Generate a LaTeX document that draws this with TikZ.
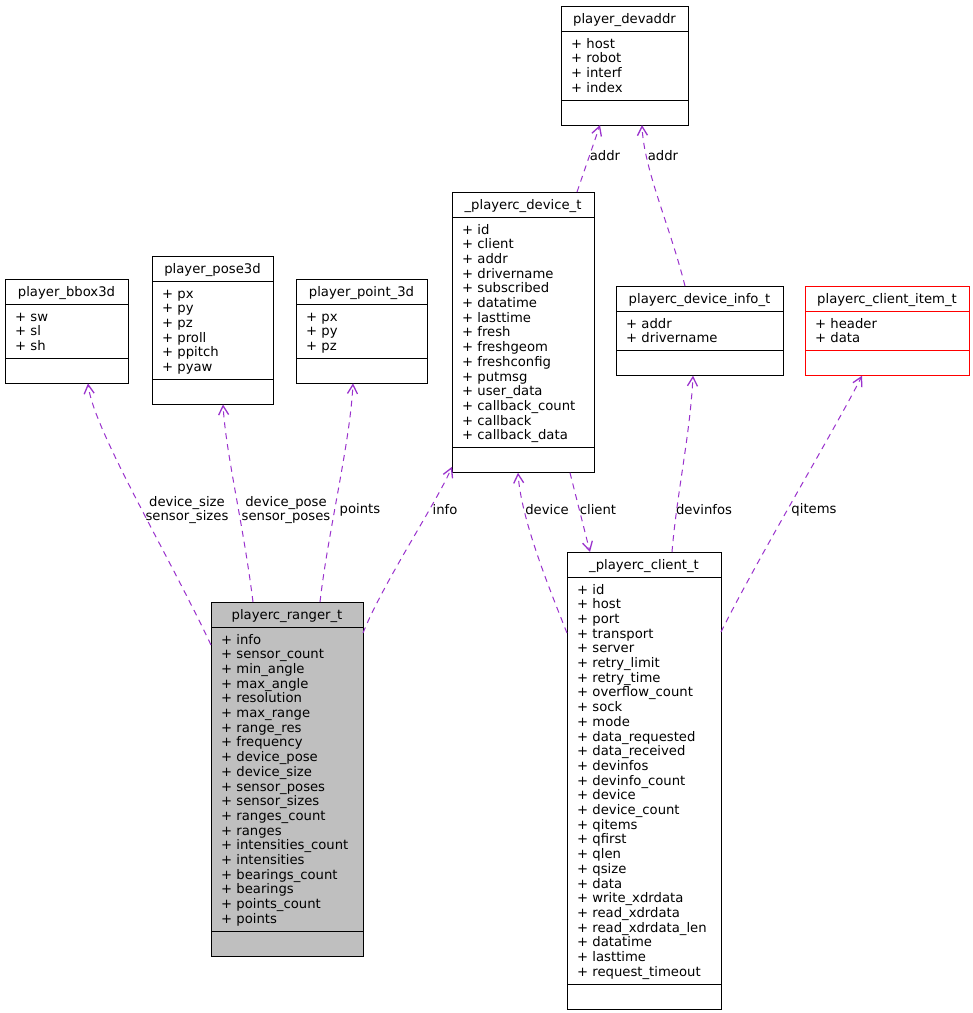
\documentclass[tikz,border=0pt]{standalone}
\usepackage{fontspec}
\setmainfont{DejaVu Sans}
\usetikzlibrary{arrows.meta}
\definecolor{edgec}{HTML}{9A32CD}
\definecolor{rangerfill}{HTML}{BFBFBF}
\tikzset{
  txt/.style={font=\fontsize{13.2}{14.7}\selectfont, inner sep=0pt, text=black},
  uses/.style={draw=edgec, line width=1pt, dash pattern=on 6pt off 5pt,
    -{Straight Barb[length=9pt,width=10pt,line width=1.3pt]}},
  elabel/.style={txt, align=center},
}
% #1 name, #2 left, #3 right, #4 top, #5 n attrs, #6 title, #7 attrs, #8 draw colour, #9 fill
\newcommand{\umlbox}[9]{%
  \pgfmathsetmacro\ubH{75+14.7*(#5-1)}%
  \pgfmathsetmacro\ubW{#3-#2}%
  \pgfmathsetmacro\ubSa{#4+25}%
  \pgfmathsetmacro\ubSb{#4+50+14.7*(#5-1)}%
  \node[draw=#8, fill=#9, line width=1pt, anchor=north west, minimum width=\ubW pt,
        minimum height=\ubH pt, inner sep=0pt, outer sep=0pt] (#1) at (#2,#4) {};
  \draw[draw=#8, line width=1pt] (#2,\ubSa) -- (#3,\ubSa);
  \draw[draw=#8, line width=1pt] (#2,\ubSb) -- (#3,\ubSb);
  \node[txt, anchor=base] (#1-title) at ({(#2+#3)/2},{#4+17.5}) {#6};
  \foreach \a [count=\i from 0] in {#7} {
    \node[txt, anchor=base west] (#1-a\i) at ({#2+10},{#4+42+14.7*\i}) {+ \a};
  }%
}
\begin{document}
\begin{tikzpicture}[x=1pt,y=-1pt]
\fill[white] (0,0) rectangle (973,1013);
\useasboundingbox (0,0) rectangle (973,1013);

\umlbox{devaddr}{561}{688}{6}{4}{player\_devaddr}{host,robot,interf,index}{black}{white}
\umlbox{devicet}{452}{594}{192}{15}{\_playerc\_device\_t}{id,client,addr,drivername,subscribed,datatime,lasttime,fresh,freshgeom,freshconfig,putmsg,user\_data,callback\_count,callback,callback\_data}{black}{white}
\umlbox{bbox}{5}{128}{279}{3}{player\_bbox3d}{sw,sl,sh}{black}{white}
\umlbox{pose}{152}{273}{256}{6}{player\_pose3d}{px,py,pz,proll,ppitch,pyaw}{black}{white}
\umlbox{point}{296}{427}{279}{3}{player\_point\_3d}{px,py,pz}{black}{white}
\umlbox{devinfo}{616}{783}{286}{2}{playerc\_device\_info\_t}{addr,drivername}{black}{white}
\umlbox{item}{805}{969}{286}{2}{playerc\_client\_item\_t}{header,data}{red}{white}
\umlbox{ranger}{211}{363}{602}{20}{playerc\_ranger\_t}{info,sensor\_count,min\_angle,max\_angle,resolution,max\_range,range\_res,frequency,device\_pose,device\_size,sensor\_poses,sensor\_sizes,ranges\_count,ranges,intensities\_count,intensities,bearings\_count,bearings,points\_count,points}{black}{rangerfill}
\umlbox{client}{567}{721}{552}{27}{\_playerc\_client\_t}{id,host,port,transport,server,retry\_limit,retry\_time,overflow\_count,sock,mode,data\_requested,data\_received,devinfos,devinfo\_count,device,device\_count,qitems,qfirst,qlen,qsize,data,write\_xdrdata,read\_xdrdata,read\_xdrdata\_len,datatime,lasttime,request\_timeout}{black}{white}

% connectors
\draw[uses] ([xshift=125pt]devicet.north west) -- ([xshift=39pt]devaddr.south west);
\draw[uses] ([xshift=69pt]devinfo.north west) .. controls +(-15,-60) and +(2,45) .. ([xshift=81pt]devaddr.south west);
\draw[uses] ([yshift=-43pt]ranger.north west) .. controls +(-45,-95) and +(5,45) .. ([xshift=83pt]bbox.south west);
\draw[uses] ([xshift=42pt]ranger.north west) .. controls +(-10,-80) and +(3,50) .. ([xshift=71pt]pose.south west);
\draw[uses] ([xshift=109pt]ranger.north west) .. controls +(8,-70) and +(-3,60) .. ([xshift=57pt]point.south west);
\draw[uses] ([yshift=-31pt]ranger.north east) .. controls +(20,-50) and +(-15,35) .. ([yshift=6pt]devicet.south west);
\draw[uses] ([yshift=-81pt]client.north west) .. controls +(-20,-50) and +(3,45) .. ([xshift=66pt]devicet.south west);
\draw[uses] ([xshift=118pt]devicet.south west) -- ([xshift=23pt]client.north west);
\draw[uses] ([xshift=105pt]client.north west) .. controls +(5,-60) and +(-3,60) .. ([xshift=77pt]devinfo.south west);
\draw[uses] ([yshift=-80pt]client.north east) .. controls +(40,-80) and +(-25,50) .. ([xshift=57pt]item.south west);

% labels
\node[elabel] (l-addr1) at (605,156) {addr};
\node[elabel] (l-addr2) at (663,156) {addr};
\node[elabel] (l-size) at (187,510) {device\_size\\sensor\_sizes};
\node[elabel] (l-pose) at (286,510) {device\_pose\\sensor\_poses};
\node[elabel] (l-points) at (360,510) {points};
\node[elabel] (l-info) at (445,510) {info};
\node[elabel] (l-device) at (547,510) {device};
\node[elabel] (l-client) at (598,510) {client};
\node[elabel] (l-devinfos) at (704,510) {devinfos};
\node[elabel] (l-qitems) at (814,510) {qitems};
\end{tikzpicture}
\end{document}
